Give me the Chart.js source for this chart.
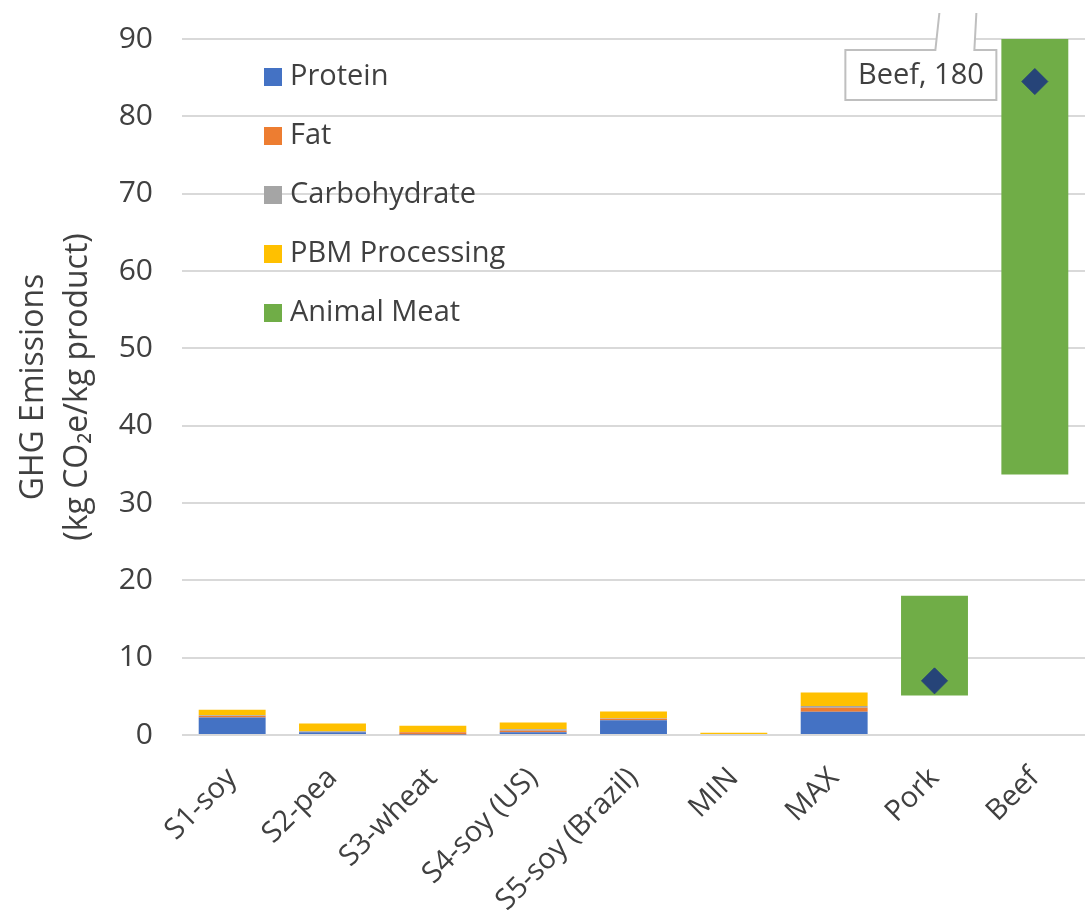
<!DOCTYPE html>
<html>
<head>
<meta charset="utf-8">
<script src="https://cdn.jsdelivr.net/npm/chart.js@4.4.1/dist/chart.umd.min.js"></script>
<style>
  body { margin: 0; background: #fff; }
  #wrap { width: 1088px; height: 922px; }
</style>
</head>
<body>
<div id="wrap"><canvas id="ghgChart"></canvas></div>
<script>
// values (kg CO2e / kg product)
var categories = ["S1-soy", "S2-pea", "S3-wheat", "S4-soy (US)", "S5-soy (Brazil)", "MIN", "MAX", "Pork", "Beef"];
var protein      = [2.25, 0.35, 0.05, 0.35, 1.9, 0, 3.0, null, null];
var fat          = [0.2, 0.05, 0.3, 0.2, 0.2, 0, 0.52, null, null];
var carbohydrate = [0.1, 0.1, 0.05, 0.18, 0.08, 0, 0.22, null, null];
var processing   = [0.7, 1.0, 0.8, 0.9, 0.85, 0.3, 1.77, null, null];
var meatLow      = [null, null, null, null, null, null, null, 5.1, 33.7];
var meatHigh     = [null, null, null, null, null, null, null, 18, 180];
var meatMean     = [null, null, null, null, null, null, null, 7, 84.5];
var yTicks       = [0, 10, 20, 30, 40, 50, 60, 70, 80, 90];
var beefLabel    = "Beef, 180";

var FONT = "'Open Sans', 'Noto Sans', sans-serif";
var TEXT = "#404040";

var animalMeat = categories.map(function(c, i) {
    return meatLow[i] == null ? null : [meatLow[i], meatHigh[i]];
});

function barSet(label, data, color) {
    return {
        type: "bar",
        label: label,
        data: data,
        backgroundColor: color,
        stack: "ghg",
        categoryPercentage: 1,
        barPercentage: 0.667,
        order: 2
    };
}

// legend drawn inside the plot area, like the original
var insideLegend = {
    id: "insideLegend",
    afterDraw: function(chart) {
        var ctx = chart.ctx;
        var area = chart.chartArea;
        var x = area.left + 82;
        var y = area.top + 38;
        ctx.save();
        ctx.font = "29px " + FONT;
        ctx.textBaseline = "middle";
        for (var i = 0; i < 5; i++) {
            var ds = chart.data.datasets[i];
            ctx.fillStyle = ds.backgroundColor;
            ctx.fillRect(x, y + i * 59 - 9, 18, 18);
            ctx.fillStyle = TEXT;
            ctx.fillText(ds.label, x + 26, y + i * 59);
        }
        ctx.restore();
    }
};

// callout for the beef bar that runs off the top of the axis
var beefCallout = {
    id: "beefCallout",
    afterDatasetsDraw: function(chart) {
        var ctx = chart.ctx;
        var area = chart.chartArea;
        var bar = chart.getDatasetMeta(4).data[8];
        var right = bar.x - bar.width / 2 - 5;
        var left = right - 151;
        var top = area.top + 11;
        var bottom = top + 50;
        var p1 = left + 90, p2 = left + 129;
        ctx.save();
        ctx.beginPath();
        ctx.moveTo(left, top);
        ctx.lineTo(p1, top);
        ctx.lineTo(p1 + 4, top - 37);
        ctx.lineTo(p2 + 2, top - 37);
        ctx.lineTo(p2, top);
        ctx.lineTo(right, top);
        ctx.lineTo(right, bottom);
        ctx.lineTo(left, bottom);
        ctx.closePath();
        ctx.fillStyle = "#fff";
        ctx.fill();
        ctx.beginPath();
        ctx.moveTo(p1 + 4, top - 37);
        ctx.lineTo(p1, top);
        ctx.lineTo(left, top);
        ctx.lineTo(left, bottom);
        ctx.lineTo(right, bottom);
        ctx.lineTo(right, top);
        ctx.lineTo(p2, top);
        ctx.lineTo(p2 + 2, top - 37);
        ctx.strokeStyle = "#bfbfbf";
        ctx.lineWidth = 2;
        ctx.stroke();
        ctx.font = "29px " + FONT;
        ctx.fillStyle = TEXT;
        ctx.textAlign = "center";
        ctx.textBaseline = "middle";
        ctx.fillText(beefLabel, (left + right) / 2, (top + bottom) / 2 + 1);
        ctx.restore();
    }
};

var chart = new Chart(document.getElementById("ghgChart"), {
    data: {
        labels: categories,
        datasets: [
            barSet("Protein", protein, "#4472C4"),
            barSet("Fat", fat, "#ED7D31"),
            barSet("Carbohydrate", carbohydrate, "#A5A5A5"),
            barSet("PBM Processing", processing, "#FFC000"),
            barSet("Animal Meat", animalMeat, "#70AD47"),
            {
                type: "line",
                label: "Mean",
                data: meatMean,
                stack: "mean",
                showLine: false,
                pointStyle: "rectRot",
                pointRadius: 13,
                pointHoverRadius: 13,
                pointBackgroundColor: "#264478",
                pointBorderColor: "#264478",
                order: 1
            }
        ]
    },
    options: {
        responsive: true,
        maintainAspectRatio: false,
        animation: false,
        layout: { autoPadding: false, padding: { top: 39, right: 3, left: 0, bottom: 0 } },
        plugins: {
            legend: { display: false },
            tooltip: { enabled: false }
        },
        scales: {
            x: {
                stacked: true,
                grid: { display: false },
                border: { display: false },
                ticks: {
                    color: TEXT,
                    font: { family: FONT, size: 29 },
                    maxRotation: 45,
                    minRotation: 45,
                    autoSkip: false,
                    padding: 18
                },
                afterFit: function(scale) {
                    scale.height = 187;
                    scale.paddingLeft = 0;
                    scale.paddingRight = 0;
                }
            },
            y: {
                stacked: true,
                min: 0,
                max: 90,
                afterBuildTicks: function(scale) {
                    scale.ticks = yTicks.map(function(v) { return { value: v }; });
                },
                grid: { color: "#d9d9d9", lineWidth: 2, drawTicks: false },
                border: { display: false },
                ticks: {
                    color: TEXT,
                    font: { family: FONT, size: 30 },
                    padding: 29
                },
                title: {
                    display: true,
                    text: ["GHG Emissions", "(kg CO\u2082e/kg product)"],
                    color: TEXT,
                    font: { family: FONT, size: 32, lineHeight: 1.38 },
                    padding: { top: 12, bottom: 0 }
                },
                afterFit: function(scale) {
                    scale.width = 182;
                    scale.paddingTop = 0;
                    scale.paddingBottom = 0;
                }
            }
        }
    },
    plugins: [insideLegend, beefCallout]
});
</script>
</body>
</html>
